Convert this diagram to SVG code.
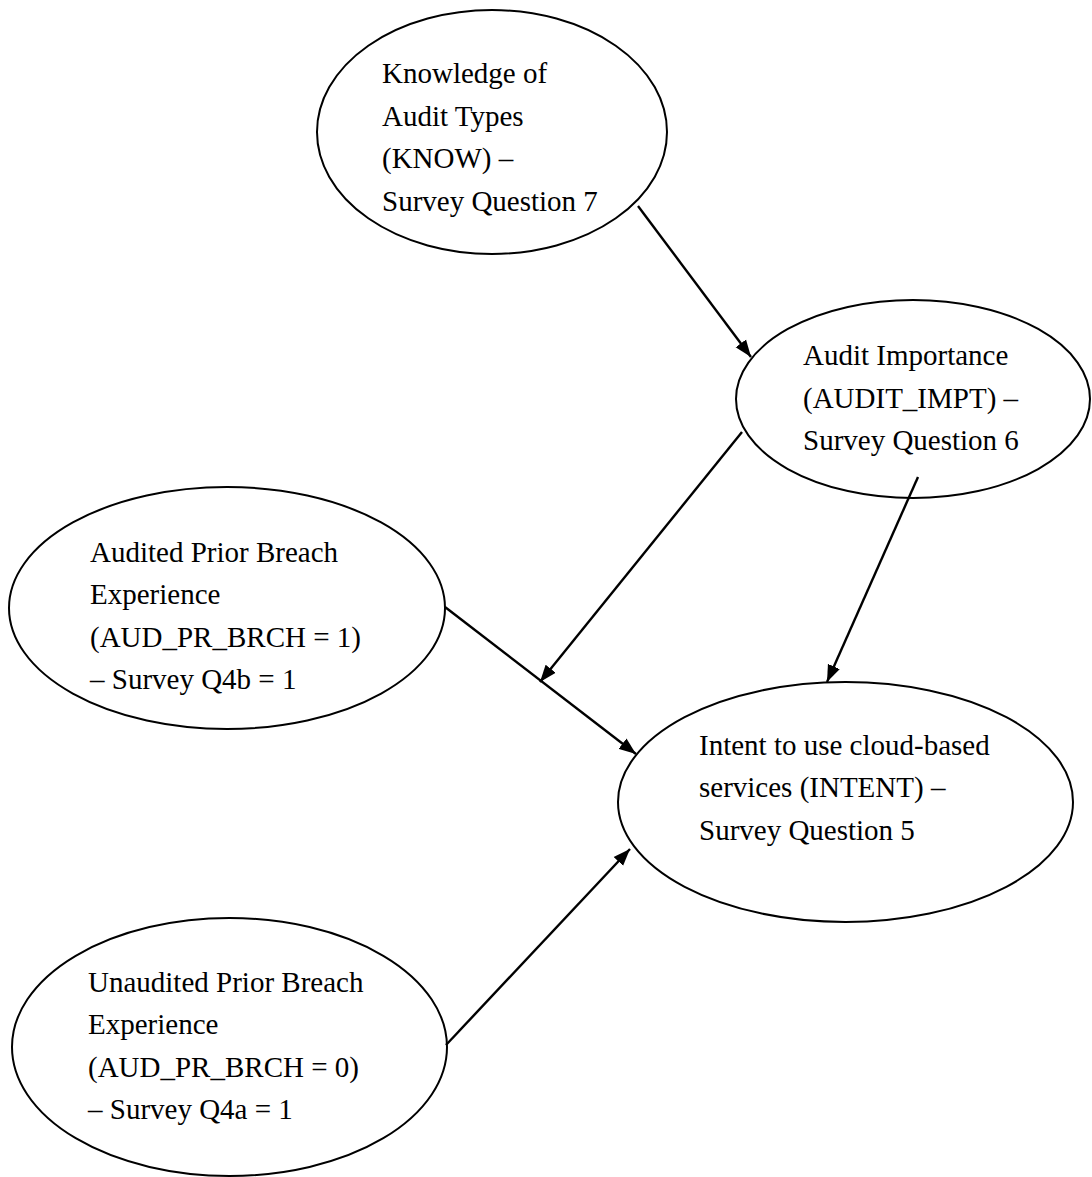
<svg xmlns="http://www.w3.org/2000/svg" width="1092" height="1177" viewBox="0 0 1092 1177">
<style>
.node ellipse{fill:#fff;stroke:#000;stroke-width:2}
.node text{font-family:"Liberation Serif","Times New Roman",serif;font-size:29px;fill:#000}
.edge{stroke:#000;stroke-width:2.4;fill:none;marker-end:url(#arr)}
</style>
<defs>
<marker id="arr" markerUnits="userSpaceOnUse" markerWidth="18" markerHeight="14" refX="17" refY="7" orient="auto">
<path d="M0,0.5 L17,7 L0,13.5 z" fill="#000"/>
</marker>
</defs>
<rect width="1092" height="1177" fill="#fff"/>
<g id="n-know" class="node">
<ellipse cx="492" cy="132" rx="175" ry="122"/>
<text x="382" y="83">Knowledge of</text>
<text x="382" y="125.5">Audit Types</text>
<text x="382" y="168">(KNOW) –</text>
<text x="382" y="210.5">Survey Question 7</text>
</g>
<g id="n-audit-impt" class="node">
<ellipse cx="913" cy="399" rx="177" ry="99"/>
<text x="803" y="365">Audit Importance</text>
<text x="803" y="408">(AUDIT_IMPT) –</text>
<text x="803" y="450">Survey Question 6</text>
</g>
<g id="n-audited" class="node">
<ellipse cx="227" cy="608" rx="218" ry="121"/>
<text x="90" y="562">Audited Prior Breach</text>
<text x="90" y="604">Experience</text>
<text x="90" y="647">(AUD_PR_BRCH = 1)</text>
<text x="90" y="689">– Survey Q4b = 1</text>
</g>
<g id="n-intent" class="node">
<ellipse cx="845.5" cy="802" rx="227.5" ry="120"/>
<text x="699" y="755">Intent to use cloud-based</text>
<text x="699" y="797">services (INTENT) –</text>
<text x="699" y="840">Survey Question 5</text>
</g>
<g id="n-unaudited" class="node">
<ellipse cx="229.5" cy="1047" rx="217.5" ry="129"/>
<text x="88" y="992">Unaudited Prior Breach</text>
<text x="88" y="1034">Experience</text>
<text x="88" y="1077">(AUD_PR_BRCH = 0)</text>
<text x="88" y="1119">– Survey Q4a = 1</text>
</g>
<g id="connectors">
<line class="edge" x1="638" y1="206" x2="751" y2="357"/>
<line class="edge" x1="742" y1="432" x2="540" y2="682"/>
<line class="edge" x1="918" y1="477" x2="827" y2="682"/>
<line class="edge" x1="445" y1="607" x2="636" y2="754"/>
<line class="edge" x1="446" y1="1045" x2="630" y2="849"/>
</g>
</svg>
